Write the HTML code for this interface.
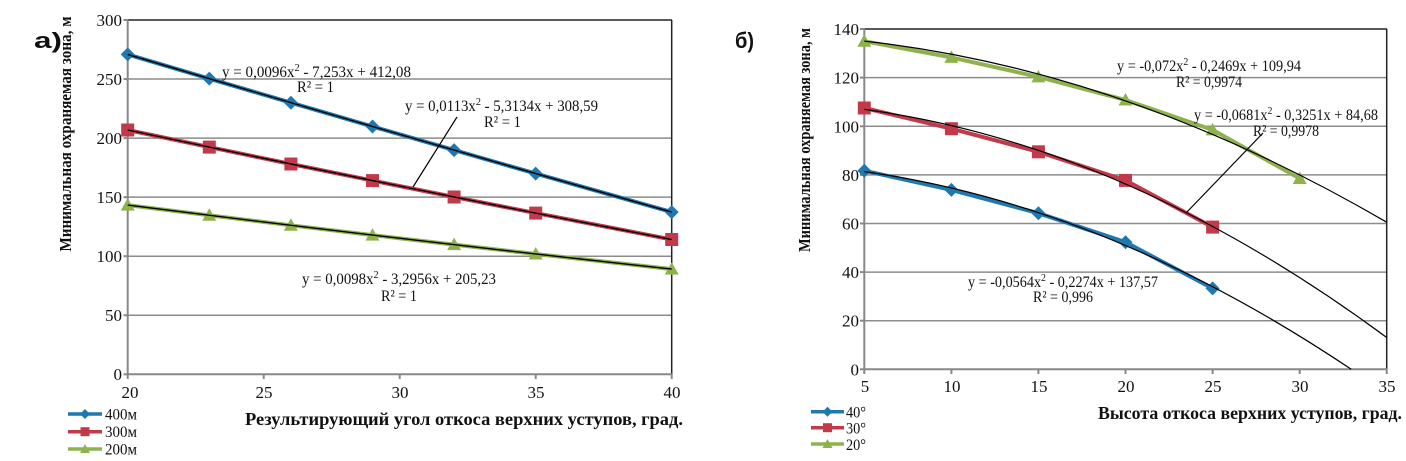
<!DOCTYPE html>
<html><head><meta charset="utf-8"><style>
html,body{margin:0;padding:0;background:#fff;}
svg{display:block;}
text{font-family:"Liberation Serif","DejaVu Serif",serif;fill:#111;}
.t{font-size:17px;}
.eq{font-size:16px;}
.b{font-weight:bold;}
</style></head><body>
<svg width="1406" height="461" viewBox="0 0 1406 461" xmlns="http://www.w3.org/2000/svg">
<rect width="1406" height="461" fill="#fff"/>

<!-- ===== LEFT CHART ===== -->
<text x="34" y="48" style="font-family:'Liberation Sans',sans-serif;font-weight:bold;font-size:22px" textLength="28" lengthAdjust="spacingAndGlyphs">а)</text>

<g stroke="#8c8c8c" stroke-width="1.5">
<line x1="127.7" y1="79.05" x2="671.7" y2="79.05"/>
<line x1="127.7" y1="138.1" x2="671.7" y2="138.1"/>
<line x1="127.7" y1="197.15" x2="671.7" y2="197.15"/>
<line x1="127.7" y1="256.2" x2="671.7" y2="256.2"/>
<line x1="127.7" y1="315.25" x2="671.7" y2="315.25"/>
</g>
<g stroke="#222" stroke-width="1.5">
<line x1="127.7" y1="20" x2="672" y2="20"/>
<line x1="671.7" y1="20" x2="671.7" y2="374.3"/>
</g>
<g stroke="#888" stroke-width="2">
<line x1="127.7" y1="20" x2="127.7" y2="375"/>
<line x1="127" y1="374.3" x2="672" y2="374.3"/>
<line x1="123.5" y1="20" x2="127.7" y2="20"/>
<line x1="123.5" y1="79.05" x2="127.7" y2="79.05"/>
<line x1="123.5" y1="138.1" x2="127.7" y2="138.1"/>
<line x1="123.5" y1="197.15" x2="127.7" y2="197.15"/>
<line x1="123.5" y1="256.2" x2="127.7" y2="256.2"/>
<line x1="123.5" y1="315.25" x2="127.7" y2="315.25"/>
<line x1="123.5" y1="374.3" x2="127.7" y2="374.3"/>
<line x1="127.7" y1="374.3" x2="127.7" y2="379"/>
<line x1="263.7" y1="374.3" x2="263.7" y2="379"/>
<line x1="399.7" y1="374.3" x2="399.7" y2="379"/>
<line x1="535.7" y1="374.3" x2="535.7" y2="379"/>
<line x1="671.7" y1="374.3" x2="671.7" y2="379"/>
</g>
<g class="t" text-anchor="end">
<text x="122" y="26">300</text>
<text x="122" y="85">250</text>
<text x="122" y="144">200</text>
<text x="122" y="203">150</text>
<text x="122" y="262">100</text>
<text x="122" y="321">50</text>
<text x="122" y="380">0</text>
</g>
<g class="t" text-anchor="middle">
<text x="130" y="398">20</text>
<text x="264" y="398">25</text>
<text x="400" y="398">30</text>
<text x="536" y="398">35</text>
<text x="672" y="398">40</text>
</g>

<g fill="none" stroke-width="4" stroke-linejoin="round">
<polyline stroke="#1f78b0" points="127.7,54.4 209.3,78.65 290.9,102.7 372.5,126.5 454.1,150.1 535.7,173.6 671.7,212.1"/>
<polyline stroke="#c23a4a" points="127.7,130.0 209.3,147.1 290.9,164.0 372.5,180.6 454.1,197.0 535.7,213.1 671.7,239.5"/>
<polyline stroke="#8fb34c" points="127.7,205.1 209.3,215.3 290.9,225.3 372.5,235.1 454.1,244.6 535.7,254.0 671.7,269.1"/>
</g>
<g fill="#1f78b0">
<path d="M127.7,47.4 l7,7 l-7,7 l-7,-7z"/>
<path d="M209.3,71.65 l7,7 l-7,7 l-7,-7z"/>
<path d="M290.9,95.7 l7,7 l-7,7 l-7,-7z"/>
<path d="M372.5,119.5 l7,7 l-7,7 l-7,-7z"/>
<path d="M454.1,143.1 l7,7 l-7,7 l-7,-7z"/>
<path d="M535.7,166.6 l7,7 l-7,7 l-7,-7z"/>
<path d="M671.7,205.1 l7,7 l-7,7 l-7,-7z"/>
</g>
<g fill="#c23a4a">
<rect x="121.2" y="123.5" width="13" height="13"/>
<rect x="202.8" y="140.6" width="13" height="13"/>
<rect x="284.4" y="157.5" width="13" height="13"/>
<rect x="366" y="174.1" width="13" height="13"/>
<rect x="447.6" y="190.5" width="13" height="13"/>
<rect x="529.2" y="206.6" width="13" height="13"/>
<rect x="665.2" y="233" width="13" height="13"/>
</g>
<g fill="#8fb34c">
<path d="M127.7,198.1 l7,12.5 h-14z"/>
<path d="M209.3,208.3 l7,12.5 h-14z"/>
<path d="M290.9,218.3 l7,12.5 h-14z"/>
<path d="M372.5,228.1 l7,12.5 h-14z"/>
<path d="M454.1,237.6 l7,12.5 h-14z"/>
<path d="M535.7,247.0 l7,12.5 h-14z"/>
<path d="M671.7,262.1 l7,12.5 h-14z"/>
</g>
<g fill="none" stroke="#000" stroke-width="1.4">
<path d="M127.7,54.4 Q399.7,135.5 671.7,212.1"/>
<path d="M127.7,130.0 Q399.7,187.4 671.7,239.5"/>
<path d="M127.7,205.1 Q399.7,239.4 671.7,269.1"/>
<line x1="457" y1="117" x2="413" y2="187" stroke-width="1.2"/>
</g>
<g class="eq">
<text x="222" y="77" textLength="189" lengthAdjust="spacingAndGlyphs">y = 0,0096x<tspan font-size="11" dy="-6">2</tspan><tspan dy="6">  - 7,253x  + 412,08</tspan></text>
<text x="297" y="92" textLength="37" lengthAdjust="spacingAndGlyphs">R² = 1</text>
<text x="405" y="111" textLength="193" lengthAdjust="spacingAndGlyphs">y = 0,0113x<tspan font-size="11" dy="-6">2</tspan><tspan dy="6">  - 5,3134x  + 308,59</tspan></text>
<text x="484" y="127" textLength="37" lengthAdjust="spacingAndGlyphs">R² = 1</text>
<text x="302" y="284" textLength="194" lengthAdjust="spacingAndGlyphs">y = 0,0098x<tspan font-size="11" dy="-6">2</tspan><tspan dy="6">  - 3,2956x  + 205,23</tspan></text>
<text x="381" y="301" textLength="36" lengthAdjust="spacingAndGlyphs">R² = 1</text>
</g>
<text class="b" transform="translate(71,134) rotate(-90)" text-anchor="middle" font-size="17" textLength="235" lengthAdjust="spacingAndGlyphs">Минимальная охраняемая зона, м</text>
<text class="b" x="245" y="425" font-size="18" textLength="438" lengthAdjust="spacingAndGlyphs">Результирующий  угол откоса верхних  уступов, град.</text>
<g stroke-width="3.5">
<line x1="68" y1="414" x2="102" y2="414" stroke="#1f78b0"/>
<line x1="68" y1="431.7" x2="102" y2="431.7" stroke="#c23a4a"/>
<line x1="68" y1="449" x2="102" y2="449" stroke="#8fb34c"/>
</g>
<path d="M85,409 l5,5 l-5,5 l-5,-5z" fill="#1f78b0"/>
<rect x="80.5" y="427.2" width="9" height="9" fill="#c23a4a"/>
<path d="M85,444 l5,9 h-10z" fill="#8fb34c"/>
<g font-size="16">
<text x="105" y="419.5" textLength="32" lengthAdjust="spacingAndGlyphs">400м</text>
<text x="105" y="437" textLength="32" lengthAdjust="spacingAndGlyphs">300м</text>
<text x="105" y="454.5" textLength="32" lengthAdjust="spacingAndGlyphs">200м</text>
</g>

<!-- ===== RIGHT CHART ===== -->
<text x="735" y="48" style="font-family:'Liberation Sans',sans-serif;font-weight:bold;font-size:22px" textLength="19" lengthAdjust="spacingAndGlyphs">б)</text>

<g stroke="#8c8c8c" stroke-width="1.5">
<line x1="864.3" y1="77.6" x2="1386.7" y2="77.6"/>
<line x1="864.3" y1="126.3" x2="1386.7" y2="126.3"/>
<line x1="864.3" y1="174.9" x2="1386.7" y2="174.9"/>
<line x1="864.3" y1="223.5" x2="1386.7" y2="223.5"/>
<line x1="864.3" y1="272.1" x2="1386.7" y2="272.1"/>
<line x1="864.3" y1="320.7" x2="1386.7" y2="320.7"/>
</g>
<g stroke="#222" stroke-width="1.5">
<line x1="864.3" y1="29" x2="1387" y2="29"/>
<line x1="1386.7" y1="29" x2="1386.7" y2="369.3"/>
</g>
<g stroke="#888" stroke-width="2">
<line x1="864.3" y1="29" x2="864.3" y2="370"/>
<line x1="864" y1="369.3" x2="1387" y2="369.3"/>
<line x1="860" y1="29" x2="864.3" y2="29"/>
<line x1="860" y1="77.6" x2="864.3" y2="77.6"/>
<line x1="860" y1="126.3" x2="864.3" y2="126.3"/>
<line x1="860" y1="174.9" x2="864.3" y2="174.9"/>
<line x1="860" y1="223.5" x2="864.3" y2="223.5"/>
<line x1="860" y1="272.1" x2="864.3" y2="272.1"/>
<line x1="860" y1="320.7" x2="864.3" y2="320.7"/>
<line x1="860" y1="369.3" x2="864.3" y2="369.3"/>
<line x1="864.3" y1="369.3" x2="864.3" y2="374"/>
<line x1="951.4" y1="369.3" x2="951.4" y2="374"/>
<line x1="1038.4" y1="369.3" x2="1038.4" y2="374"/>
<line x1="1125.5" y1="369.3" x2="1125.5" y2="374"/>
<line x1="1212.6" y1="369.3" x2="1212.6" y2="374"/>
<line x1="1299.7" y1="369.3" x2="1299.7" y2="374"/>
<line x1="1386.7" y1="369.3" x2="1386.7" y2="374"/>
</g>
<g class="t" text-anchor="end">
<text x="859" y="35">140</text>
<text x="859" y="83.6">120</text>
<text x="859" y="132.3">100</text>
<text x="859" y="180.9">80</text>
<text x="859" y="229.5">60</text>
<text x="859" y="278.1">40</text>
<text x="859" y="326.7">20</text>
<text x="859" y="375.3">0</text>
</g>
<g class="t" text-anchor="middle">
<text x="865" y="392">5</text>
<text x="952" y="392">10</text>
<text x="1039" y="392">15</text>
<text x="1126" y="392">20</text>
<text x="1213" y="392">25</text>
<text x="1300" y="392">30</text>
<text x="1387" y="392">35</text>
</g>

<g fill="none" stroke-width="4" stroke-linejoin="round">
<polyline stroke="#1f78b0" points="864.3,170.7 951.4,189.9 1038.4,213.2 1125.5,242.2 1212.6,288.4"/>
<polyline stroke="#c23a4a" points="864.3,108.0 951.4,128.7 1038.4,151.8 1125.5,180.4 1212.6,227.1"/>
<polyline stroke="#8fb34c" points="864.3,41.2 951.4,57.4 1038.4,76.9 1125.5,100.0 1212.6,129.9 1299.7,178.5"/>
</g>
<g fill="#1f78b0">
<path d="M864.3,163.7 l7,7 l-7,7 l-7,-7z"/>
<path d="M951.4,182.9 l7,7 l-7,7 l-7,-7z"/>
<path d="M1038.4,206.2 l7,7 l-7,7 l-7,-7z"/>
<path d="M1125.5,235.2 l7,7 l-7,7 l-7,-7z"/>
<path d="M1212.6,281.4 l7,7 l-7,7 l-7,-7z"/>
</g>
<g fill="#c23a4a">
<rect x="857.8" y="101.5" width="13" height="13"/>
<rect x="944.9" y="122.2" width="13" height="13"/>
<rect x="1031.9" y="145.3" width="13" height="13"/>
<rect x="1119" y="173.9" width="13" height="13"/>
<rect x="1206.1" y="220.6" width="13" height="13"/>
</g>
<g fill="#8fb34c">
<path d="M864.3,34.2 l7,12.5 h-14z"/>
<path d="M951.4,50.4 l7,12.5 h-14z"/>
<path d="M1038.4,69.9 l7,12.5 h-14z"/>
<path d="M1125.5,93.0 l7,12.5 h-14z"/>
<path d="M1212.6,122.9 l7,12.5 h-14z"/>
<path d="M1299.7,171.5 l7,12.5 h-14z"/>
</g>
<g fill="none" stroke="#000" stroke-width="1.2">
<path d="M864.3,41.1 Q1125.5,70.0 1386.7,222.2"/>
<path d="M864.3,109.4 Q1125.5,144.7 1386.7,337.5"/>
<path d="M864.3,171.6 Q1107.7,205.8 1351.2,369.3"/>
<line x1="1263" y1="133" x2="1187" y2="212"/>
</g>
<g class="eq">
<text x="1117" y="71" textLength="184" lengthAdjust="spacingAndGlyphs">y = -0,072x<tspan font-size="11" dy="-6">2</tspan><tspan dy="6">  - 0,2469x  + 109,94</tspan></text>
<text x="1176" y="87" textLength="66" lengthAdjust="spacingAndGlyphs">R² = 0,9974</text>
<text x="1194" y="120" textLength="184" lengthAdjust="spacingAndGlyphs">y = -0,0681x<tspan font-size="11" dy="-6">2</tspan><tspan dy="6">  - 0,3251x  + 84,68</tspan></text>
<text x="1253" y="136" textLength="66" lengthAdjust="spacingAndGlyphs">R² = 0,9978</text>
<text x="968" y="287" textLength="190" lengthAdjust="spacingAndGlyphs">y = -0,0564x<tspan font-size="11" dy="-6">2</tspan><tspan dy="6">  - 0,2274x  + 137,57</tspan></text>
<text x="1033" y="302" textLength="60" lengthAdjust="spacingAndGlyphs">R² = 0,996</text>
</g>
<text class="b" transform="translate(810,140) rotate(-90)" text-anchor="middle" font-size="17" textLength="224" lengthAdjust="spacingAndGlyphs">Минимальная охраняемая зона, м</text>
<text class="b" x="1098" y="419" font-size="18" textLength="304" lengthAdjust="spacingAndGlyphs">Высота откоса верхних  уступов, град.</text>
<g stroke-width="3.5">
<line x1="811" y1="411.7" x2="844" y2="411.7" stroke="#1f78b0"/>
<line x1="811" y1="427.7" x2="844" y2="427.7" stroke="#c23a4a"/>
<line x1="811" y1="444" x2="844" y2="444" stroke="#8fb34c"/>
</g>
<path d="M827.5,406.7 l5,5 l-5,5 l-5,-5z" fill="#1f78b0"/>
<rect x="823" y="423.2" width="9" height="9" fill="#c23a4a"/>
<path d="M827.5,439 l5,9 h-10z" fill="#8fb34c"/>
<g font-size="16">
<text x="846" y="417.5" textLength="20" lengthAdjust="spacingAndGlyphs">40°</text>
<text x="846" y="433.5" textLength="20" lengthAdjust="spacingAndGlyphs">30°</text>
<text x="846" y="449.8" textLength="20" lengthAdjust="spacingAndGlyphs">20°</text>
</g>
</svg>
</body></html>
